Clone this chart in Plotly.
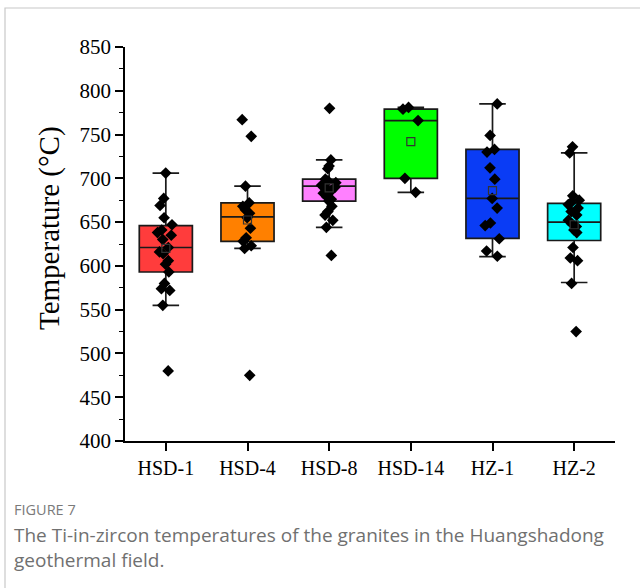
import plotly.graph_objects as go

categories = ["HSD-1", "HSD-4", "HSD-8", "HSD-14", "HZ-1", "HZ-2"]
colors = ["#FF3C3C", "#FF8000", "#FF80FF", "#00FF00", "#0A3CF5", "#00FFFF"]

# individual temperatures (°C)
hsd1 = [706, 677, 669, 655, 647, 641, 638, 635, 630, 621, 616, 614, 606, 602, 593, 580, 574, 572, 555, 480]
hsd4 = [767, 748, 691, 672, 668, 664, 660, 655, 643, 632, 628, 623, 620, 475]
hsd8 = [780, 721, 714, 711, 699, 697, 695, 693, 692, 690, 688, 686, 683, 679, 676, 674, 668, 662, 658, 652, 644, 612]
hsd14 = [781, 779, 766, 700, 684]
hz1 = [785, 749, 733, 730, 712, 699, 677, 666, 649, 646, 631, 617, 611]
hz2 = [736, 729, 680, 675, 672, 670, 666, 662, 658, 652, 648, 645, 641, 638, 621, 609, 606, 580, 525]
samples = [hsd1, hsd4, hsd8, hsd14, hz1, hz2]

# box statistics
q1 = [593, 628, 674, 700, 631.5, 629]
median = [621, 656, 691, 766, 677, 650]
q3 = [646, 672, 699, 779, 733, 671.5]
lower_whisker = [555, 620, 644, 684, 610.5, 581]
upper_whisker = [706, 691, 721, 781, 785, 729]
means = [620, 652.4, 689, 742, 686, 647]

fig = go.Figure()

for i, cat in enumerate(categories):
    fig.add_trace(go.Box(
        x=[cat], q1=[q1[i]], median=[median[i]], q3=[q3[i]],
        lowerfence=[lower_whisker[i]], upperfence=[upper_whisker[i]],
        fillcolor=colors[i], line=dict(color="#1a1a1a", width=1.7),
        boxpoints=False, width=0.65, whiskerwidth=0.5, showlegend=False,
    ))

fig.add_trace(go.Scatter(
    x=categories, y=means, mode="markers",
    marker=dict(symbol="square-open", size=8, color="#333333", line=dict(width=1.2)),
    showlegend=False,
))

for i, cat in enumerate(categories):
    fig.add_trace(go.Box(
        x=[cat] * len(samples[i]), y=samples[i],
        boxpoints="all", jitter=0.35, pointpos=0, width=0.65,
        fillcolor="rgba(0,0,0,0)", line=dict(width=0, color="rgba(0,0,0,0)"),
        marker=dict(symbol="diamond", size=9, color="black"),
        showlegend=False,
    ))

fig.update_layout(
    width=640, height=588,
    margin=dict(l=125, r=25, t=47, b=147),
    paper_bgcolor="white", plot_bgcolor="white",
    boxmode="overlay",
    xaxis=dict(
        type="category", categoryorder="array", categoryarray=categories,
        range=[-0.5, 5.5], showline=True, linecolor="black", linewidth=1.5,
        ticks="outside", ticklen=8, tickwidth=1.5, tickcolor="black",
        tickfont=dict(family="Liberation Serif", size=20, color="black"),
        showgrid=False, zeroline=False,
    ),
    yaxis=dict(
        range=[400, 850], tick0=400, dtick=50, showline=True, linecolor="black",
        linewidth=1.5, ticks="outside", ticklen=8, tickwidth=1.5, tickcolor="black",
        minor=dict(ticks="outside", ticklen=4, dtick=25, tickcolor="black", tickwidth=1.2),
        tickfont=dict(family="Liberation Serif", size=21, color="black"),
        showgrid=False, zeroline=False,
    ),
    shapes=[dict(
        type="rect", xref="paper", yref="paper",
        x0=(5 - 125) / 490, x1=(660 - 125) / 490,
        y0=(441 - 620) / 394, y1=(441 - 8) / 394,
        line=dict(color="#c8c8c8", width=1.2), fillcolor="rgba(0,0,0,0)", layer="below",
    )],
    annotations=[
        dict(text="Temperature (°C)", xref="paper", yref="paper",
             x=(49 - 125) / 490, y=(441 - 228) / 394, textangle=-90,
             xanchor="center", yanchor="middle", showarrow=False,
             font=dict(family="Liberation Serif", size=29, color="black")),
        dict(text="FIGURE 7", xref="paper", yref="paper", x=(13 - 125) / 490, y=(441 - 510) / 394,
             xanchor="left", yanchor="middle", showarrow=False, borderpad=0,
             font=dict(family="Open Sans", size=14.5, color="#7a7a7a")),
        dict(text="The Ti-in-zircon temperatures of the granites in the Huangshadong<br>geothermal field.",
             xref="paper", yref="paper", x=(13 - 125) / 490, y=(441 - 547) / 394,
             xanchor="left", yanchor="middle", align="left", showarrow=False, borderpad=0,
             font=dict(family="Open Sans", size=19, color="#707070")),
    ],
)

fig.write_html("out.html")
